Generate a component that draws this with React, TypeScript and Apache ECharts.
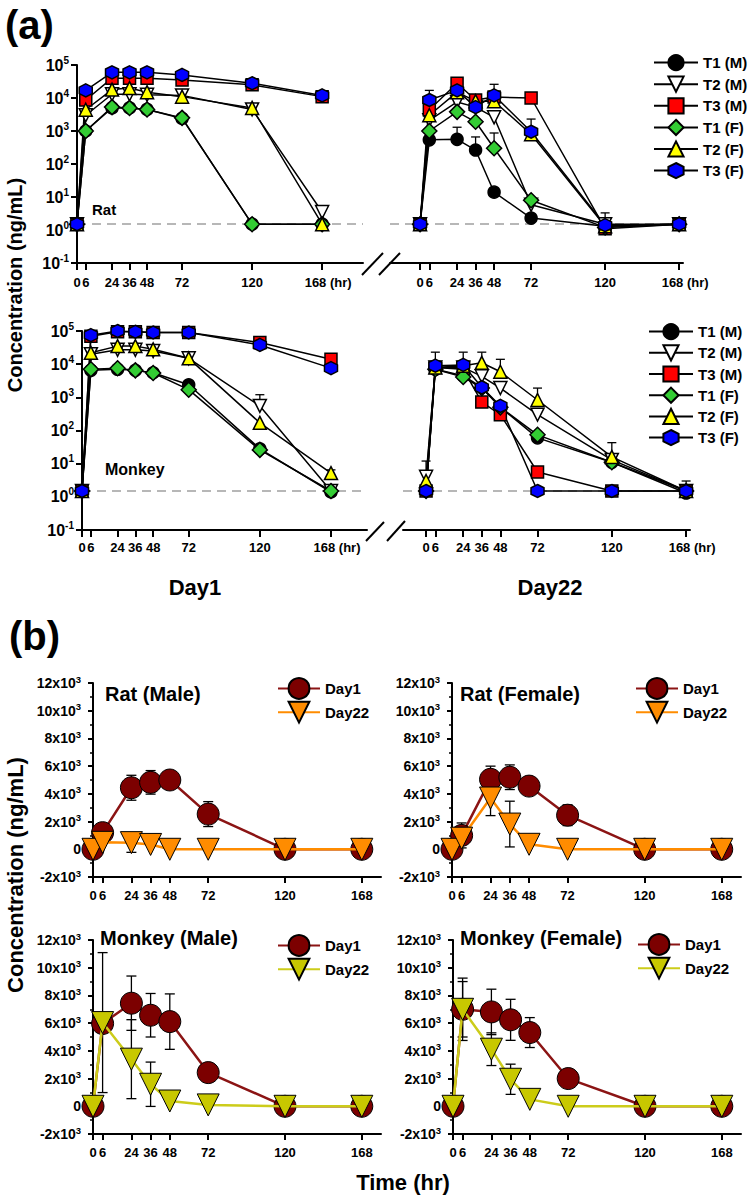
import React, { useEffect, useRef } from 'react';
import * as echarts from 'echarts';

const hours = [0, 6, 24, 36, 48, 72, 120, 168];
const tNames = ['T1 (M)', 'T2 (M)', 'T3 (M)', 'T1 (F)', 'T2 (F)', 'T3 (F)'];

// ---- Panel (a): Rat Day1 (ng/mL)
const ratD1_T1M = [1.5, 1000, 5000, 5000, 4500, 2400, 1.5, 1.5];
const ratD1_T2M = [1.5, 3000, 13000, 13000, 12500, 12000, 4500, 3.5];
const ratD1_T3M = [1.5, 8700, 40000, 40000, 40000, 35000, 25000, 11000];
const ratD1_T1F = [1.5, 1000, 5300, 5000, 4500, 2500, 1.5, 1.5];
const ratD1_T2F = [1.5, 4400, 18000, 20000, 15000, 11000, 5000, 1.5];
const ratD1_T3F = [1.5, 17000, 60000, 60000, 60000, 50000, 28000, 12000];
// ---- Panel (a): Rat Day22
const ratD22_T1M = [1.5, 540, 560, 265, 14, 2.3, 1.3, 1.5];
const ratD22_T2M = [1.5, 2100, 7600, 5300, 2600, 5.8, 1.5, 1.5];
const ratD22_T3M = [1.5, 4400, 28000, 8700, 10700, 10000, 1.1, 1.5];
const ratD22_T1F = [1.5, 1000, 3800, 1900, 300, 8, 1.2, 1.5];
const ratD22_T2F = [1.5, 3000, 15000, 8000, 8000, 800, 1.3, 1.5];
const ratD22_T3F = [1.5, 8700, 17000, 5300, 12000, 950, 1.4, 1.5];
// ---- Panel (a): Monkey Day1
const monD1_T1M = [1.5, 6500, 7000, 6500, 5500, 2400, 28, 1.4];
const monD1_T2M = [1.5, 20000, 27000, 27000, 25000, 15000, 550, 1.5];
const monD1_T3M = [1.5, 70000, 95000, 95000, 90000, 90000, 45000, 14000];
const monD1_T1F = [1.5, 7000, 7500, 6500, 5400, 1700, 26, 1.5];
const monD1_T2F = [1.5, 22000, 35000, 35000, 28000, 15000, 170, 5.2];
const monD1_T3F = [1.5, 75000, 100000, 95000, 90000, 90000, 38000, 7600];
// ---- Panel (a): Monkey Day22
const monD22_T1M = [1.5, 7000, 4500, 2000, 500, 60, 11, 1.3];
const monD22_T2M = [4, 8000, 8000, 4300, 1900, 300, 13, 1.5];
const monD22_T3M = [1.5, 8000, 7000, 720, 300, 5.6, 1.5, 1.5];
const monD22_T1F = [1.5, 7000, 4100, 1900, 500, 74, 11, 1.5];
const monD22_T2F = [3, 8000, 9000, 11000, 5900, 830, 16, 1.5];
const monD22_T3F = [1.5, 9000, 9500, 2000, 550, 1.5, 1.5, 1.5];
// upper error bars in panel (a): [hour, mean, upper]
const ratD1Err = [[168, 3.5, 4.6]];
const ratD22Err = [[6, 8700, 17000], [36, 5300, 10700], [48, 12000, 26000], [24, 560, 1300], [36, 265, 660], [48, 300, 870], [72, 950, 2300], [120, 1.4, 3.3]];
const monD1Err = [[120, 550, 1200], [168, 5.2, 6.5]];
const monD22Err = [[0, 4, 12], [6, 9000, 23000], [24, 9500, 23000], [36, 11000, 23000], [48, 5900, 14000], [72, 830, 1900], [120, 16, 43], [168, 1.5, 3]];
const lloq = 1.5;

// ---- Panel (b): mean and SD
const ratMaleD1 = [0, 1200, 4440, 4830, 5000, 2540, 0, 0];
const ratMaleD1Sd = [0, 0, 900, 850, 150, 900, 0, 0];
const ratMaleD22 = [0, 500, 480, 350, 0, 0, 0, 0];
const ratMaleD22Sd = [0, 0, 700, 0, 0, 0, 0, 0];
const ratFemaleD1 = [0, 1000, 5050, 5200, 4560, 2460, 0, 0];
const ratFemaleD1Sd = [0, 900, 950, 890, 0, 750, 0, 0];
const ratFemaleD22 = [0, 800, 3700, 1820, 360, 0, 0, 0];
const ratFemaleD22Sd = [0, 400, 1270, 1650, 0, 0, 0, 0];
const monMaleD1 = [0, 5970, 7440, 6570, 6110, 2430, 0, 0];
const monMaleD1Sd = [0, 0, 1960, 1570, 2000, 0, 0, 0];
const monMaleD22 = [0, 6040, 3400, 1590, 380, 100, 0, 0];
const monMaleD22Sd = [0, 5050, 2850, 1600, 0, 0, 0, 0];
const monFemaleD1 = [0, 7000, 6810, 6240, 5320, 2000, 0, 0];
const monFemaleD1Sd = [0, 2000, 1640, 1480, 1080, 0, 0, 0];
const monFemaleD22 = [0, 7000, 4120, 1950, 500, 0, 0, 0];
const monFemaleD22Sd = [0, 2250, 1180, 1090, 0, 0, 0, 0];

const FN = "'Liberation Sans Narrow', 'Arial Narrow', 'Liberation Sans', Arial, sans-serif";
const FB = "'Liberation Sans', Arial, Helvetica, sans-serif";

const downTri = 'path://M0,0L20,0L10,17.3Z';
const hexagon = 'path://M10,0L18.66,5L18.66,15L10,20L1.34,15L1.34,5Z';
const tFill = ['#000000', '#ffffff', '#ff0000', '#33cc33', '#ffff00', '#0000ff'];
const tSymbol = ['circle', downTri, 'rect', 'diamond', 'triangle', hexagon];
const tSize = [12, 13, 12, 15, 13, 13];

const gridsA = [
  { left: 77, top: 65, width: 286, height: 198 },
  { left: 390, top: 65, width: 293, height: 198 },
  { left: 82, top: 331, width: 285, height: 199 },
  { left: 403, top: 331, width: 287, height: 199 },
];
const xRangeA = [[0, 196], [-19.5, 170.5], [0, 192.3], [-14.9, 170.5]];
const gridsB = [
  { left: 93, top: 683, width: 288, height: 194 },
  { left: 452, top: 683, width: 289, height: 194 },
  { left: 93, top: 940, width: 288, height: 194 },
  { left: 453, top: 940, width: 288, height: 194 },
];

function errRender(capW: number, both: boolean) {
  return (params: any, api: any) => {
    const x = api.value(0);
    const p1 = api.coord([x, api.value(1)]);
    const p2 = api.coord([x, api.value(2)]);
    const st = { stroke: '#000', lineWidth: 1.3 };
    const children: any[] = [
      { type: 'line', shape: { x1: p1[0], y1: p1[1], x2: p2[0], y2: p2[1] }, style: st },
      { type: 'line', shape: { x1: p2[0] - capW / 2, y1: p2[1], x2: p2[0] + capW / 2, y2: p2[1] }, style: st },
    ];
    if (both) children.push({ type: 'line', shape: { x1: p1[0] - capW / 2, y1: p1[1], x2: p1[0] + capW / 2, y2: p1[1] }, style: st });
    return { type: 'group', children };
  };
}

function buildOption() {
  const dataA = [
    [ratD1_T1M, ratD1_T2M, ratD1_T3M, ratD1_T1F, ratD1_T2F, ratD1_T3F],
    [ratD22_T1M, ratD22_T2M, ratD22_T3M, ratD22_T1F, ratD22_T2F, ratD22_T3F],
    [monD1_T1M, monD1_T2M, monD1_T3M, monD1_T1F, monD1_T2F, monD1_T3F],
    [monD22_T1M, monD22_T2M, monD22_T3M, monD22_T1F, monD22_T2F, monD22_T3F],
  ];
  const errA = [ratD1Err, ratD22Err, monD1Err, monD22Err];

  const richX = (fs: number) => ({
    n: { fontFamily: FN, fontWeight: 'bold', fontSize: fs, color: '#000' },
    h: { fontFamily: FN, fontWeight: 'bold', fontSize: fs, color: '#000' },
    p: { width: 12 },
  });

  const grid: any[] = [];
  const xAxis: any[] = [];
  const yAxis: any[] = [];
  const series: any[] = [];

  gridsA.forEach((g, i) => {
    grid.push({ ...g, containLabel: false });
    xAxis.push({
      gridIndex: i, type: 'value', min: xRangeA[i][0], max: xRangeA[i][1],
      axisLine: { show: true, onZero: false, lineStyle: { color: '#000', width: 2 } },
      axisTick: { show: true, customValues: hours, length: 7, lineStyle: { color: '#000', width: 2 } },
      axisLabel: {
        show: true, customValues: hours, margin: i < 2 ? 13 : 11,
        formatter: (v: number) => (v === 168 ? '{p| }{n|168}{h| (hr)}' : '{n|' + v + '}'),
        rich: richX(13),
      },
      splitLine: { show: false },
    });
    yAxis.push({
      gridIndex: i, type: 'log', logBase: 10, min: 0.1, max: 100000, splitNumber: 6,
      show: i % 2 === 0,
      axisLine: { show: true, onZero: false, lineStyle: { color: '#000', width: 2 } },
      axisTick: { show: true, length: 6, lineStyle: { color: '#000', width: 2 } },
      axisLabel: {
        margin: 8,
        formatter: (v: number) => '{b|10}{s|' + Math.round(Math.log10(v)) + '}',
        rich: {
          b: { fontFamily: FB, fontWeight: 'bold', fontSize: 16, color: '#000', lineHeight: 20 },
          s: { fontFamily: FB, fontWeight: 'bold', fontSize: 10, color: '#000', lineHeight: 10, verticalAlign: 'top' },
        },
      },
      splitLine: { show: false },
    });
    dataA[i].forEach((arr, t) => {
      const s: any = {
        type: 'line', name: tNames[t], xAxisIndex: i, yAxisIndex: i, silent: true, z: 3,
        data: hours.map((h, k) => [h, arr[k]]),
        symbol: tSymbol[t], symbolSize: tSize[t],
        itemStyle: { color: tFill[t], borderColor: '#000', borderWidth: 1.5 },
        lineStyle: { color: '#000', width: 1.5 },
      };
      if (t === 0) {
        s.markLine = {
          silent: true, z: 1, symbol: ['none', 'none'], label: { show: false },
          lineStyle: { color: '#a0a0a0', type: [9, 6], width: 1.5 },
          data: [{ yAxis: lloq }],
        };
      }
      series.push(s);
    });
    series.push({
      type: 'custom', xAxisIndex: i, yAxisIndex: i, silent: true, z: 2,
      data: errA[i], encode: { x: 0, y: [1, 2] }, renderItem: errRender(9, false),
    });
  });

  const dataB = [
    [ratMaleD1, ratMaleD1Sd, ratMaleD22, ratMaleD22Sd, false],
    [ratFemaleD1, ratFemaleD1Sd, ratFemaleD22, ratFemaleD22Sd, false],
    [monMaleD1, monMaleD1Sd, monMaleD22, monMaleD22Sd, true],
    [monFemaleD1, monFemaleD1Sd, monFemaleD22, monFemaleD22Sd, true],
  ];
  gridsB.forEach((g, j) => {
    const i = j + 4;
    grid.push({ ...g, containLabel: false });
    xAxis.push({
      gridIndex: i, type: 'value', min: 0, max: 180,
      axisLine: { show: true, onZero: false, lineStyle: { color: '#000', width: 2 } },
      axisTick: { show: true, customValues: hours, length: 6, lineStyle: { color: '#000', width: 2 } },
      axisLabel: {
        show: true, customValues: hours, margin: 12,
        formatter: (v: number) => '{n|' + v + '}', rich: richX(13),
      },
      splitLine: { show: false },
    });
    yAxis.push({
      gridIndex: i, type: 'value', min: -2000, max: 12000, interval: 2000,
      axisLine: { show: true, onZero: false, lineStyle: { color: '#000', width: 2 } },
      axisTick: { show: true, length: 5, lineStyle: { color: '#000', width: 2 } },
      minorTick: { show: true, splitNumber: 2, length: 3, lineStyle: { color: '#000', width: 1.5 } },
      axisLabel: {
        margin: 12,
        formatter: (v: number) => (v === 0 ? '{b|0}' : '{b|' + v / 1000 + 'x10}{s|3}'),
        rich: {
          b: { fontFamily: FB, fontWeight: 'bold', fontSize: 14, color: '#000', lineHeight: 18 },
          s: { fontFamily: FB, fontWeight: 'bold', fontSize: 9.5, color: '#000', lineHeight: 9, verticalAlign: 'top' },
        },
      },
      splitLine: { show: false },
    });
    const [d1, d1sd, d22, d22sd, isMon] = dataB[j] as [number[], number[], number[], number[], boolean];
    const errs = (m: number[], sd: number[]) =>
      hours.map((h, k) => (sd[k] > 0 ? [h, m[k] - sd[k], m[k] + sd[k]] : null)).filter((x) => x);
    series.push({
      type: 'custom', xAxisIndex: i, yAxisIndex: i, silent: true, z: 2,
      data: errs(d1, d1sd).concat(errs(d22, d22sd)), encode: { x: 0, y: [1, 2] }, renderItem: errRender(10, true),
    });
    series.push({
      type: 'line', name: 'Day1', xAxisIndex: i, yAxisIndex: i, silent: true, z: 3,
      data: hours.map((h, k) => [h, d1[k]]),
      symbol: 'circle', symbolSize: 22,
      itemStyle: { color: '#7c0000', borderColor: '#000', borderWidth: 1 },
      lineStyle: { color: '#8b1414', width: 2.5 },
    });
    series.push({
      type: 'line', name: isMon ? 'Day22\u200b' : 'Day22', xAxisIndex: i, yAxisIndex: i, silent: true, z: 4,
      data: hours.map((h, k) => [h, d22[k]]),
      symbol: downTri, symbolSize: 22,
      itemStyle: { color: isMon ? '#c8c800' : '#ff8c00', borderColor: '#000', borderWidth: 1 },
      lineStyle: { color: isMon ? '#cccc1a' : '#ff8c00', width: 2.5 },
    });
  });

  const legTextA = { fontFamily: FB, fontWeight: 'bold', fontSize: 15, color: '#000' };
  const legA = (left: number, top: number, gap: number) => ({
    data: tNames, orient: 'vertical', left, top, itemWidth: 44, itemHeight: 19, itemGap: gap,
    textStyle: legTextA, selectedMode: false, padding: 0,
  });
  const legB = (left: number, top: number, mon: boolean) => ({
    data: mon ? ['Day1', 'Day22\u200b'] : ['Day1', 'Day22'], orient: 'vertical', left, top,
    itemWidth: 42, itemHeight: 26, itemGap: 1, selectedMode: false, padding: 0,
    formatter: (n: string) => n.replace(/\u200b/g, ''),
    textStyle: { fontFamily: FB, fontWeight: 'bold', fontSize: 15, color: '#000' },
  });

  const txt = (text: string, x: number, y: number, size: number, align = 'left', rotation = 0) => ({
    type: 'text', x, y, rotation, silent: true,
    style: { text, fill: '#000', font: `bold ${size}px ${FB}`, align, verticalAlign: 'middle' },
  });
  const ln = (x1: number, y1: number, x2: number, y2: number) => ({
    type: 'line', silent: true, shape: { x1, y1, x2, y2 }, style: { stroke: '#000', lineWidth: 2 },
  });

  return {
    animation: false,
    backgroundColor: '#fff',
    grid, xAxis, yAxis, series,
    legend: [
      legA(653, 54, 4.4), legA(648, 323, 4),
      legB(277, 677, false), legB(635, 677, false), legB(277, 934, true), legB(637, 933, true),
    ],
    graphic: [
      txt('(a)', 5, 25, 40),
      txt('(b)', 9, 636, 40),
      txt('Rat', 92, 209, 15),
      txt('Monkey', 105, 469, 16),
      txt('Day1', 195, 587, 22, 'center'),
      txt('Day22', 550, 587, 22, 'center'),
      txt('Concentration (ng/mL)', 15, 285, 20, 'center', Math.PI / 2),
      txt('Concentration (ng/mL)', 15, 875, 22, 'center', Math.PI / 2),
      txt('Time (hr)', 403, 1182, 22, 'center'),
      txt('Rat (Male)', 105, 694, 20),
      txt('Rat (Female)', 460, 694, 20),
      txt('Monkey (Male)', 100, 938, 20),
      txt('Monkey (Female)', 460, 938, 20),
      ln(362, 275, 383, 253), ln(379, 275, 400, 253),
      ln(366, 541, 384, 522), ln(387, 541, 405, 521),
    ],
  };
}

export default function App() {
  const ref = useRef<HTMLDivElement>(null);
  useEffect(() => {
    const chart = echarts.init(ref.current!, null, { renderer: 'svg' });
    chart.setOption(buildOption() as any);
    return () => chart.dispose();
  }, []);
  return (
    <div
      ref={ref}
      style={{ position: 'absolute', left: 0, top: 0, width: 751, height: 1197, background: '#fff' }}
    />
  );
}
